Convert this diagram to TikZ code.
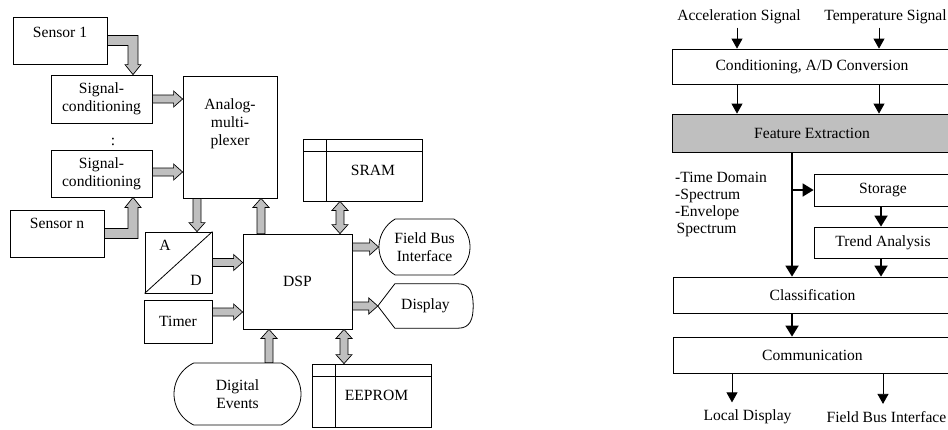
\documentclass[tikz,border=0pt]{standalone}
\usepackage{fontspec}
\setmainfont{Liberation Serif}
\usetikzlibrary{calc,shapes.misc,arrows.meta}

\tikzset{
  box/.style={draw, line width=0.8pt, rectangle, inner sep=0pt},
  mem/.style={box, minimum width=119pt, minimum height=62pt,
    path picture={
      \draw ([yshift=-12.5pt]path picture bounding box.north west) -- ([yshift=-12.5pt]path picture bounding box.north east);
      \draw ([xshift=23.5pt]path picture bounding box.north west) -- ([xshift=23.5pt]path picture bounding box.south west);}},
  blk/.style={draw, fill=black!25, line width=0.7pt, line join=miter},
  ln/.style={line width=0.8pt, -{Triangle[length=10pt,width=11pt]}},
  tk/.style={line width=1.8pt, -{Triangle[length=11pt,width=13pt]}},
}

% block arrows
\newcommand\barrow[2]{%
  \coordinate (ba) at (#1); \coordinate (bb) at (#2);
  \coordinate (bc) at ($(bb)!9pt!(ba)$);
  \draw[blk] ($(ba)!4pt!90:(bb)$) -- ($(bc)!4pt!90:(bb)$) -- ($(bc)!8pt!90:(bb)$) -- (bb)
    -- ($(bc)!8pt!-90:(bb)$) -- ($(bc)!4pt!-90:(bb)$) -- ($(ba)!4pt!-90:(bb)$) -- cycle;}
\newcommand\dbarrow[2]{%
  \coordinate (ba) at (#1); \coordinate (bb) at (#2);
  \coordinate (bc) at ($(bb)!9pt!(ba)$); \coordinate (bd) at ($(ba)!9pt!(bb)$);
  \draw[blk] (ba) -- ($(bd)!8pt!90:(bb)$) -- ($(bd)!4pt!90:(bb)$) -- ($(bc)!4pt!90:(bb)$) -- ($(bc)!8pt!90:(bb)$) -- (bb)
    -- ($(bc)!8pt!-90:(bb)$) -- ($(bc)!4pt!-90:(bb)$) -- ($(bd)!4pt!-90:(bb)$) -- ($(bd)!8pt!-90:(bb)$) -- cycle;}
\newcommand\elbarrow[2]{%
  \draw[blk] let \p1=(#1), \p2=(#2), \n1={sign(\y2-\y1)} in
    (\x1,{\y1-5pt*(\n1)}) -- ({\x2+5pt},{\y1-5pt*(\n1)}) -- ({\x2+5pt},{\y2-10pt*(\n1)}) -- ({\x2+8pt},{\y2-10pt*(\n1)})
    -- (\p2) -- ({\x2-8pt},{\y2-10pt*(\n1)}) -- ({\x2-5pt},{\y2-10pt*(\n1)}) -- ({\x2-5pt},{\y1+5pt*(\n1)}) -- (\x1,{\y1+5pt*(\n1)}) -- cycle;}

\begin{document}
\begin{tikzpicture}[x=1pt, y=-1pt, font=\fontsize{15.6}{18}\selectfont]
\useasboundingbox (0,0) rectangle (948,429);
\clip (0,0) rectangle (948,429);

% left: hardware
\node (sens1) [box, minimum width=94pt, text height=20pt, text depth=27pt] at (60,40.5) {Sensor 1};
\node (sigc1) [box, align=center, minimum width=101pt, minimum height=48pt] at (101.5,99) {Signal-\\conditioning};
\node (dots) at (113,142) {:};
\node (sigc2) [box, align=center, minimum width=101pt, minimum height=47pt] at (101.5,173.5) {Signal-\\conditioning};
\node (sensn) [box, minimum width=94pt, text height=18pt, text depth=29pt] at (57,233.5) {Sensor n};
\node (mux) [box, minimum width=94pt, minimum height=122pt,
  label={[align=center, yshift=13pt, name=muxtxt]center:Analog-\\multi-\\plexer}] at (230,137) {};
\node (ad) [box, minimum width=67pt, minimum height=61pt] at (178.5,262.5) {};
\draw[line width=0.8pt] (ad.south west) -- (ad.north east);
\node (adA) at ([shift={(-13.5,-17.5)}]ad.center) {A};
\node (adD) at ([shift={(17.5,17.5)}]ad.center) {D};
\node (timer) [box, minimum width=68pt, minimum height=43pt] at (178,321.5) {Timer};
\node (dsp) [box, minimum width=109pt, minimum height=95pt] at (297.5,281.5) {DSP};
\node (sram) [mem] at (362.5,170) {\hspace*{21pt}SRAM};
\node (eeprom) [mem, minimum height=63pt] at (371.5,395.5) {\hspace*{10pt}EEPROM};
\node (fbus) [draw, line width=0.8pt, rounded rectangle, rounded rectangle arc length=120, align=center,
  minimum width=91pt, minimum height=56pt, inner sep=0pt] at (424.5,247) {Field Bus\\Interface};
\node (digev) [draw, line width=0.8pt, rounded rectangle, rounded rectangle arc length=130, align=center,
  minimum width=127pt, minimum height=62pt, inner sep=0pt] at (237.5,394) {Digital\\Events};
\node (disp) [minimum width=95pt, minimum height=44pt, inner sep=0pt] at (425.5,306) {Display};
\draw[line width=0.8pt] (disp.west) -- ([xshift=17pt]disp.north west) -- ([xshift=-15pt]disp.north east)
  .. controls ([xshift=-3pt]disp.north east) and ([yshift=13pt]disp.east) .. (disp.east)
  .. controls ([yshift=-13pt]disp.east) and ([xshift=-3pt]disp.south east) .. ([xshift=-15pt]disp.south east)
  -- ([xshift=17pt]disp.south west) -- cycle;

\elbarrow{sens1.east}{[xshift=31.5pt]sigc1.north}
\elbarrow{sensn.east}{[xshift=31.5pt]sigc2.south}
\barrow{sigc1.east}{sigc1.east -| mux.west}
\barrow{[yshift=1.5pt]sigc2.east}{[yshift=1.5pt]sigc2.east -| mux.west}
\coordinate (m1) at ([xshift=-33pt]mux.south);
\coordinate (m2) at ([xshift=31pt]mux.south);
\barrow{m1}{m1 |- ad.north}
\barrow{m2 |- dsp.north}{m2}
\barrow{ad.east}{ad.east -| dsp.west}
\barrow{[yshift=9.5pt]timer.east}{[yshift=9.5pt]timer.east -| dsp.west}
\barrow{fbus.west -| dsp.east}{fbus.west}
\barrow{disp.west -| dsp.east}{disp.west}
\coordinate (s1) at ([xshift=-22.5pt]sram.south);
\dbarrow{s1}{s1 |- dsp.north}
\coordinate (e1) at ([xshift=-27.5pt]eeprom.north);
\dbarrow{e1 |- dsp.south}{e1}
\coordinate (g1) at ([xshift=31.5pt]digev.north);
\barrow{g1}{g1 |- dsp.south}

% right: software
\node (accsig) at (739,17) {Acceleration Signal};
\node (tempsig) at (885.5,17) {Temperature Signal};
\node (cond) [box, minimum width=280pt, minimum height=35pt] at (812,66.5) {Conditioning, A/D Conversion};
\node (feat) [box, fill=black!25, minimum width=280pt, minimum height=38pt] at (812,133) {Feature Extraction};
\node (stor) [box, minimum width=138pt, minimum height=32pt] at (883,190) {Storage};
\node (trend) [box, minimum width=138pt, minimum height=31pt] at (883,242.5) {Trend Analysis};
\node (class) [box, minimum width=279pt, minimum height=36pt] at (812.5,295) {Classification};
\node (comm) [box, minimum width=279pt, minimum height=36pt] at (812.5,355) {Communication};
\node (flist) [align=left, anchor=north west, inner sep=0pt, font=\fontsize{15.6}{17}\selectfont] at (675,172)
  {-Time Domain\\-Spectrum\\-Envelope\\\hspace*{1.5pt}Spectrum};
\node (locdisp) at (747.5,417) {Local Display};
\node (fbi) at (886.5,417) {Field Bus Interface};

\coordinate (c1) at (737,0);
\coordinate (c2) at (879,0);
\coordinate (c3) at (792,0);
\coordinate (c4) at (732,0);
\coordinate (c5) at (883,0);
\draw[ln] (accsig.south -| c1) -- (c1 |- cond.north);
\draw[ln] (tempsig.south -| c2) -- (c2 |- cond.north);
\draw[ln] (cond.south -| c1) -- (c1 |- feat.north);
\draw[ln] (cond.south -| c2) -- (c2 |- feat.north);
\draw[tk] (feat.south -| c3) -- (c3 |- class.north);
\draw[tk] (c3 |- stor.west) -- (stor.west);
\draw[tk] ([xshift=-2pt]stor.south) -- ([xshift=-2pt]trend.north);
\draw[tk] ([xshift=-2pt]trend.south) -- ([xshift=-2pt]trend.south |- class.north);
\draw[tk] (class.south -| c3) -- (c3 |- comm.north);
\draw[ln] (comm.south -| c4) -- ([yshift=4pt]c4 |- locdisp.north);
\draw[ln] (comm.south -| c5) -- ([yshift=4pt]c5 |- fbi.north);
\end{tikzpicture}
\end{document}
